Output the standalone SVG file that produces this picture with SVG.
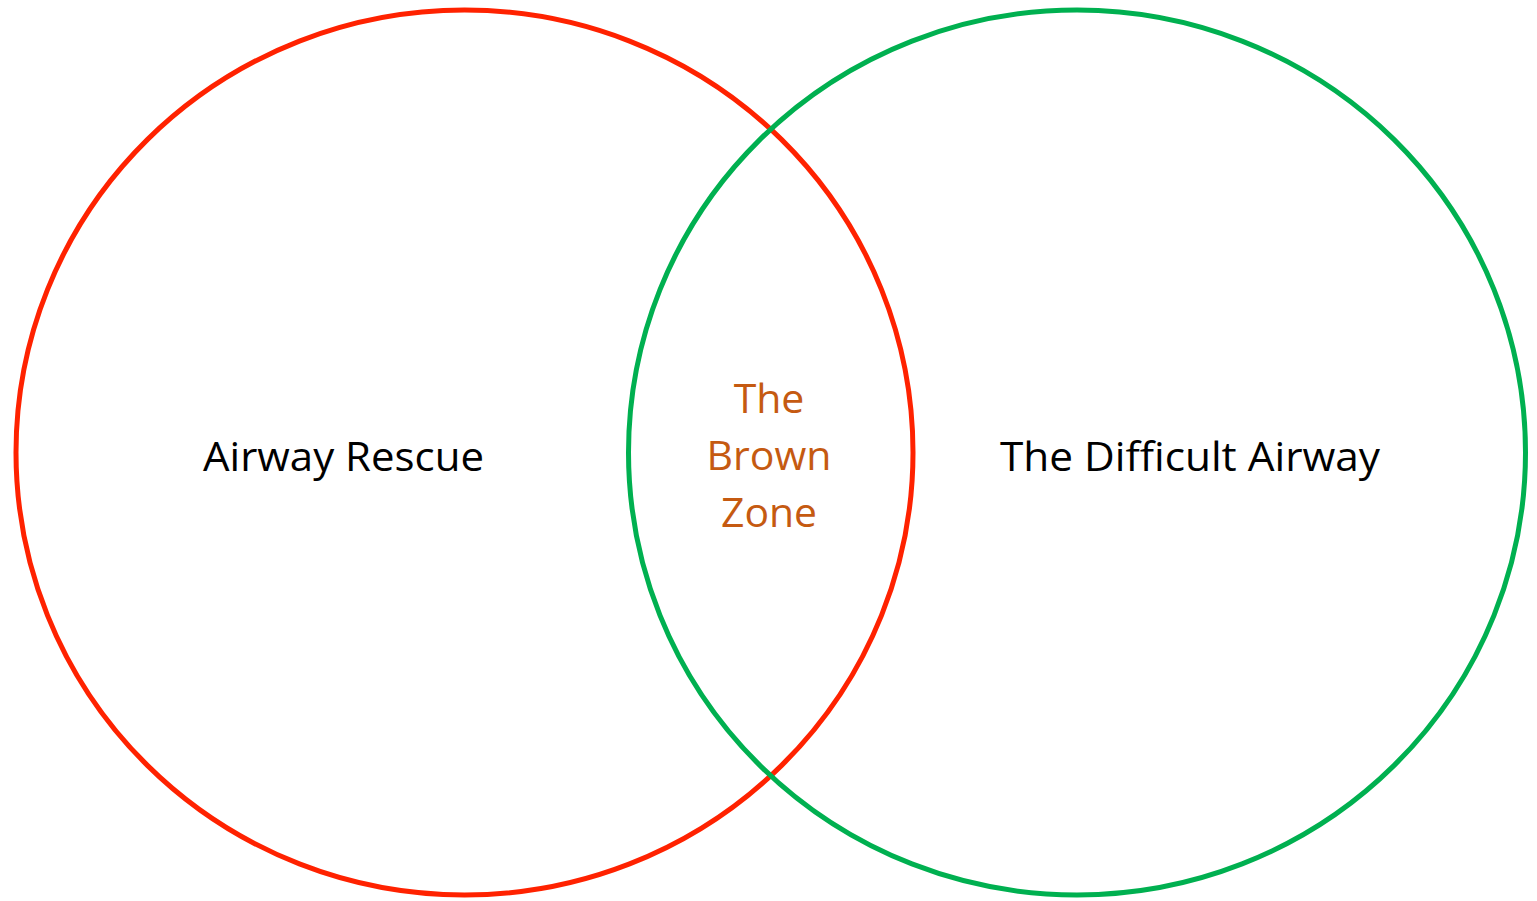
<svg xmlns="http://www.w3.org/2000/svg" width="1537" height="901" viewBox="0 0 1537 901">
<style>
.c{fill:none;stroke-width:5}
.t{font-family:"Open Sans","Noto Sans","Liberation Sans",sans-serif;font-size:41px;text-anchor:middle;fill:#000}
.b{fill:#C55A11}
</style>
<rect width="1537" height="901" fill="#fff"/>
<g id="airway-rescue">
<ellipse class="c" cx="464.5" cy="452.5" rx="448.5" ry="442.5" stroke="#FF2200"/>
<text class="t" x="343.5" y="471" textLength="281" lengthAdjust="spacingAndGlyphs">Airway Rescue</text>
</g>
<g id="difficult-airway">
<ellipse class="c" cx="1077" cy="452.5" rx="448.5" ry="442.5" stroke="#00B050"/>
<text class="t" x="1190" y="471" textLength="380" lengthAdjust="spacingAndGlyphs">The Difficult Airway</text>
</g>
<g id="brown-zone">
<text class="t b" x="769" y="413">The</text>
<text class="t b" x="769" y="470" textLength="125" lengthAdjust="spacingAndGlyphs">Brown</text>
<text class="t b" x="769" y="527" textLength="96" lengthAdjust="spacingAndGlyphs">Zone</text>
</g>
<g id="connectors"></g>
</svg>
